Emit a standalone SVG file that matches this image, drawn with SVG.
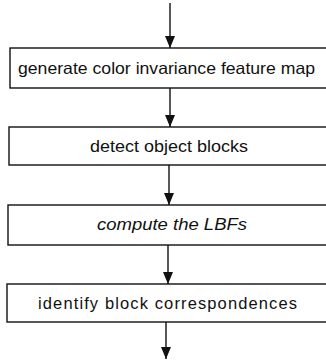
<svg xmlns="http://www.w3.org/2000/svg" width="326" height="361" viewBox="0 0 326 361">
<style>
.box{fill:#fff;stroke:#111;stroke-width:1.4}
.t{font-family:"Liberation Sans",Arial,sans-serif;font-size:16.5px;fill:#111}
.c{stroke:#111;stroke-width:1.4;fill:none}
</style>
<defs>
<marker id="a" markerWidth="12" markerHeight="10" refX="12" refY="5" orient="auto" markerUnits="userSpaceOnUse" viewBox="0 0 12 10">
<path d="M0,0 L12,5 L0,10 Z" fill="#111"/>
</marker>
</defs>
<g id="connectors">
<line class="c" x1="170" y1="3" x2="170" y2="48" marker-end="url(#a)"/>
<line class="c" x1="170" y1="88" x2="170" y2="127" marker-end="url(#a)"/>
<line class="c" x1="169" y1="165" x2="169" y2="205" marker-end="url(#a)"/>
<line class="c" x1="168" y1="245" x2="168" y2="284" marker-end="url(#a)"/>
<line class="c" x1="166" y1="322" x2="166" y2="359" marker-end="url(#a)"/>
</g>
<g id="n1"><rect class="box" x="10" y="48" width="320" height="40"/><text class="t" x="18" y="74" textLength="297" lengthAdjust="spacingAndGlyphs">generate color invariance feature map</text></g>
<g id="n2"><rect class="box" x="9" y="127" width="320" height="38"/><text class="t" x="90" y="152" textLength="158" lengthAdjust="spacingAndGlyphs">detect object blocks</text></g>
<g id="n3"><rect class="box" x="8" y="205" width="320" height="40"/><text class="t" x="97" y="230" textLength="150" lengthAdjust="spacingAndGlyphs" font-style="italic">compute the LBFs</text></g>
<g id="n4"><rect class="box" x="7" y="284" width="320" height="38"/><text class="t" x="38" y="309" textLength="259" lengthAdjust="spacing">identify  block  correspondences</text></g>
</svg>
